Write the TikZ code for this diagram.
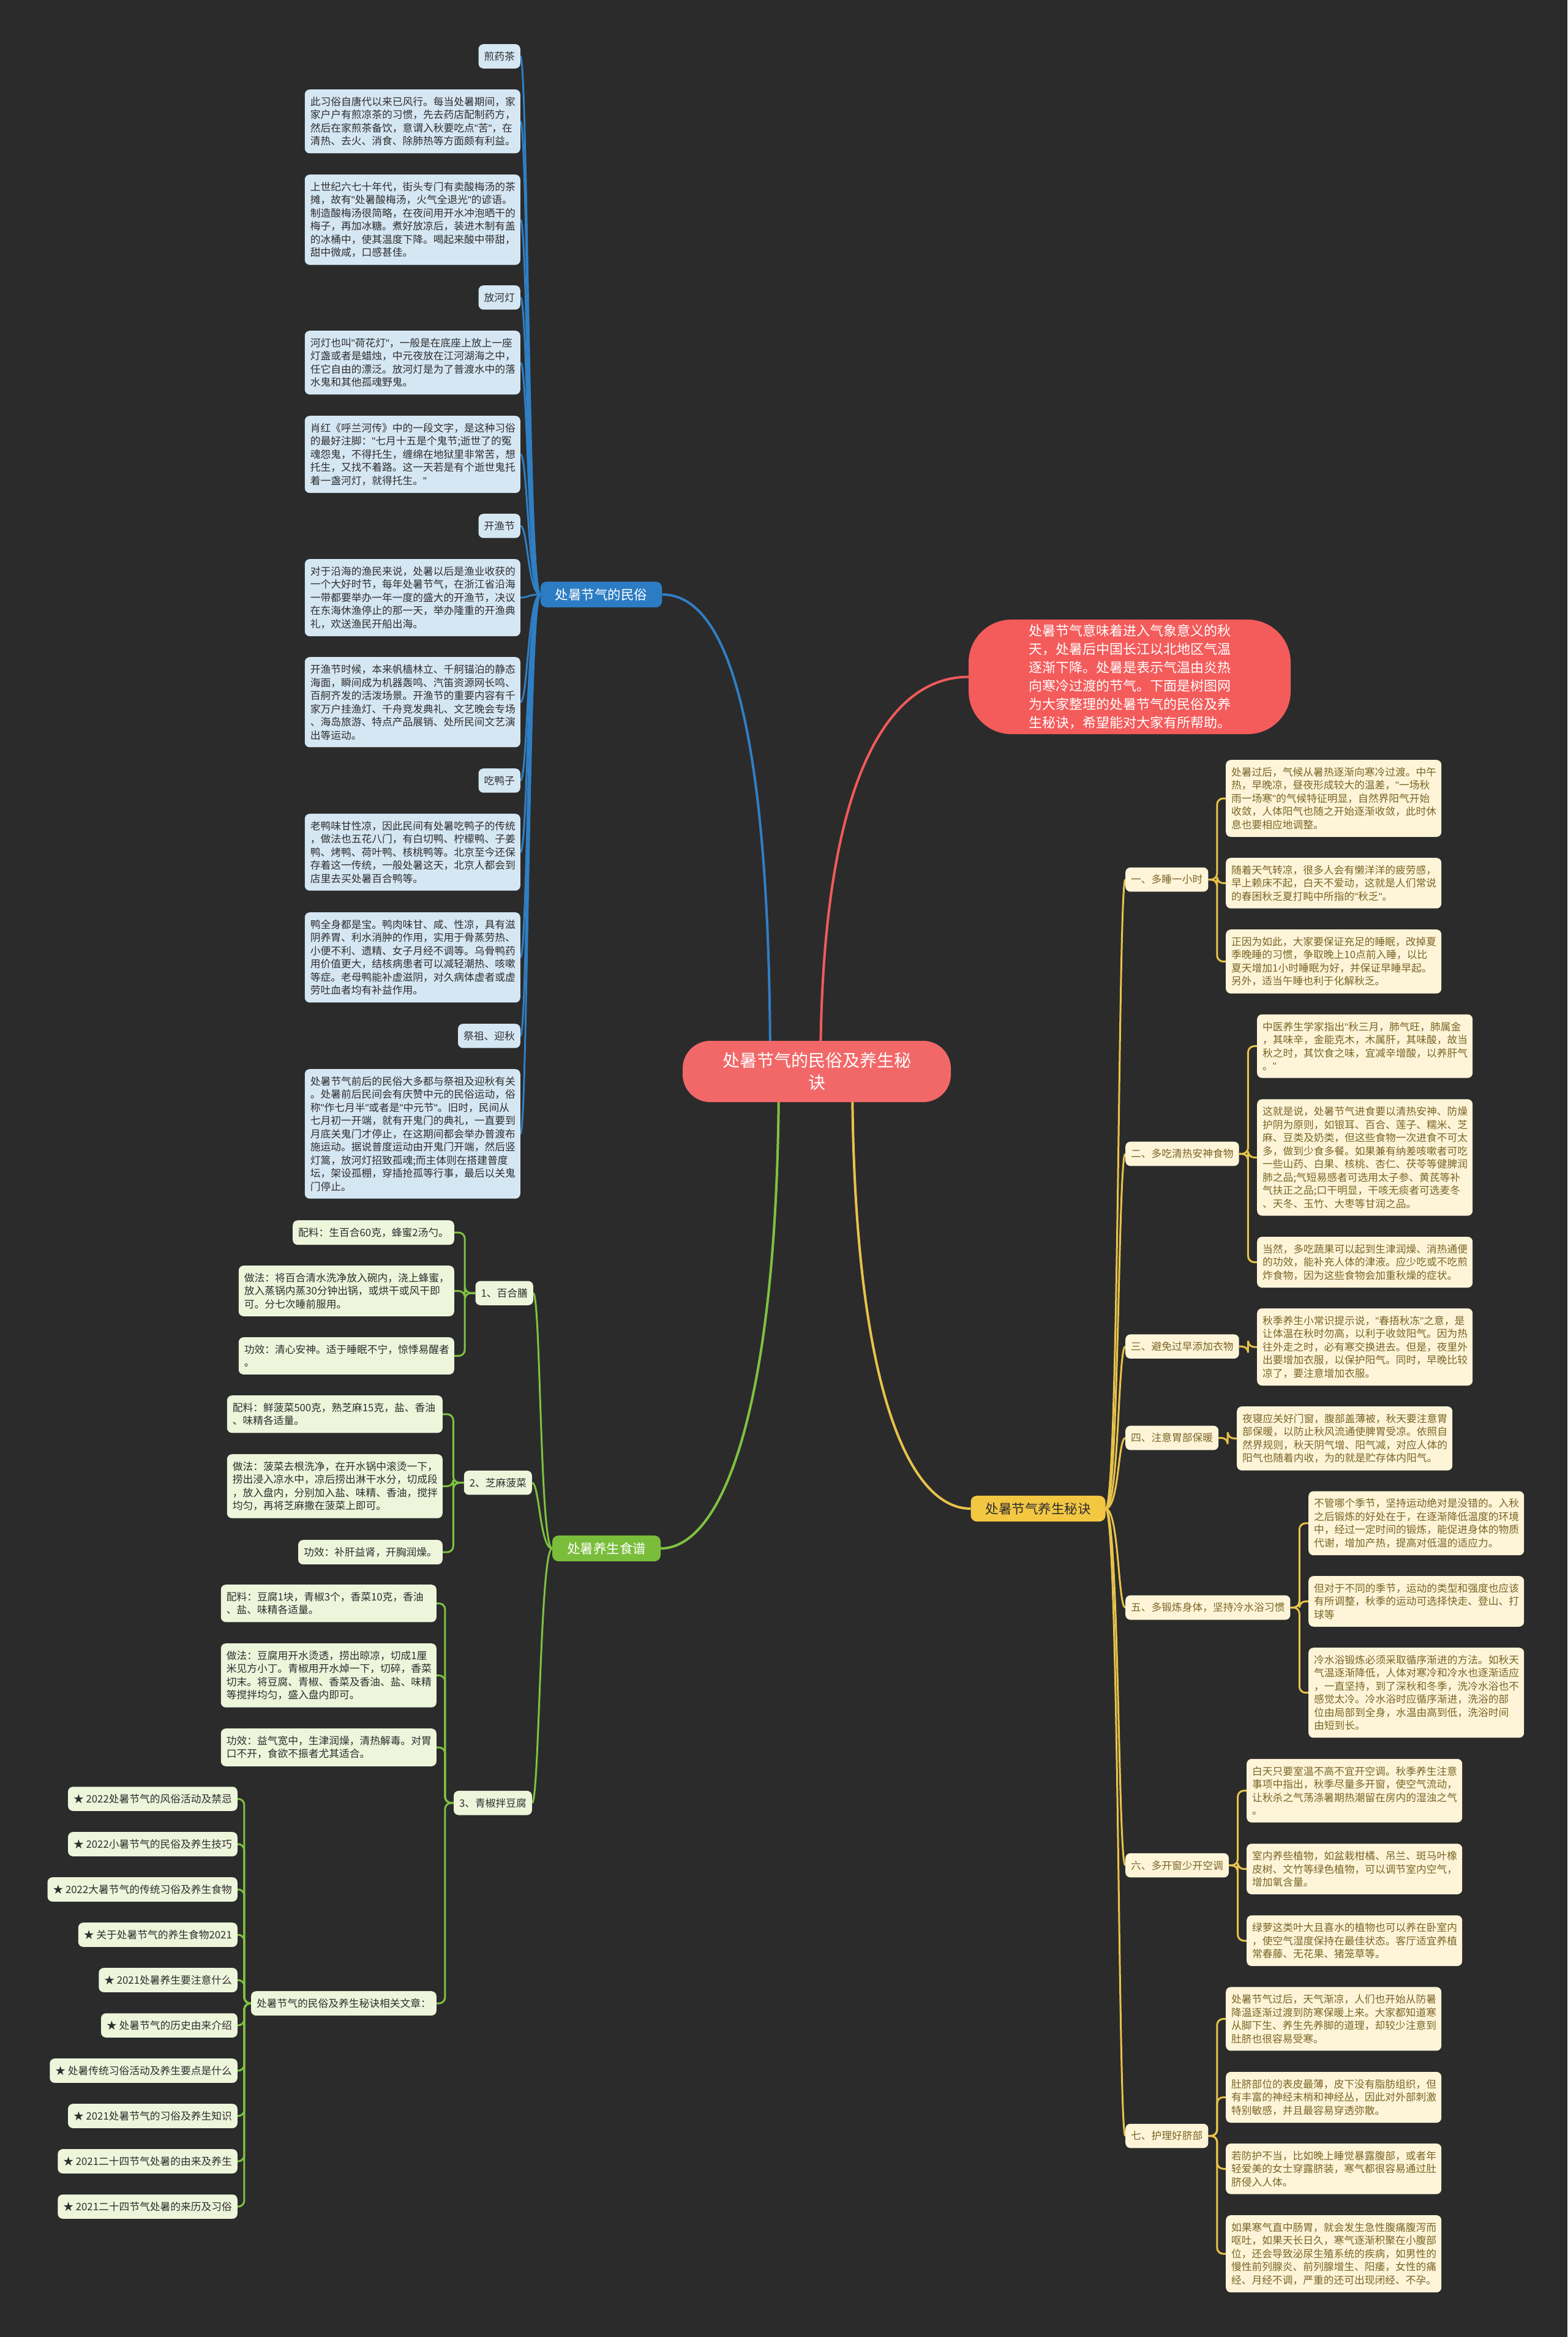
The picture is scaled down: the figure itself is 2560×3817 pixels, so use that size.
\documentclass[tikz,border=0pt]{standalone}
\usepackage{fontspec}
\setmainfont{Noto Sans CJK SC}
\newfontfamily\qfont{Liberation Sans}
\newcommand\q{{\qfont"}}
\usetikzlibrary{calc}
\pgfdeclarelayer{bg}
\pgfsetlayers{bg,main}
\definecolor{bgc}{HTML}{2B2B2B}
\definecolor{bluefill}{HTML}{D6E7F4}
\definecolor{blueline}{HTML}{2F7FC4}
\definecolor{bluebr}{HTML}{2C7CC4}
\definecolor{greenfill}{HTML}{EDF5DB}
\definecolor{greenline}{HTML}{7FC241}
\definecolor{greenbr}{HTML}{7ABD3B}
\definecolor{yellowfill}{HTML}{FEF5D9}
\definecolor{yellowline}{HTML}{E8C34A}
\definecolor{yellowbr}{HTML}{F4C743}
\definecolor{yellowtext}{HTML}{7A6525}
\definecolor{darktext}{HTML}{2E2E2E}
\definecolor{redline}{HTML}{F25A5A}
\definecolor{redfill}{HTML}{F45B5B}
\definecolor{rootfill}{HTML}{F26868}
\newcommand\fsA{\fontsize{16.75pt}{21.5pt}\selectfont}
\newcommand\fsB{\fontsize{21.5pt}{26pt}\selectfont}
\newcommand\fsC{\fontsize{28pt}{36pt}\selectfont}
\newcommand\fsD{\fontsize{22pt}{30pt}\selectfont}
\tikzset{
  box/.style={rounded corners=8pt, inner xsep=9pt, inner ysep=12pt, font=\fsA, align=left},
  wide/.style={text width=334pt},
  bl/.style={box, fill=bluefill, text=darktext},
  gr/.style={box, fill=greenfill, text=darktext},
  ye/.style={box, fill=yellowfill, text=yellowtext},
  branch/.style={rounded corners=10pt, inner xsep=24pt, inner ysep=11pt, font=\fsB},
  bline/.style={draw=blueline, line width=3pt},
  gline/.style={draw=greenline, line width=3pt},
  yline/.style={draw=yellowline, line width=3pt},
  gbr/.style={gline, rounded corners=10pt},
  ybr/.style={yline, rounded corners=10pt},
}
\begin{document}
\begin{tikzpicture}[x=1pt,y=-1pt]
\useasboundingbox (0,0) rectangle (2560,3817);
\begin{pgfonlayer}{bg}
\fill[bgc] (0,0) rectangle (2560,3817);
\end{pgfonlayer}

% central and branch nodes
\node[fill=rootfill, text=white, rounded corners=45pt, inner xsep=65pt, inner ysep=19pt, font=\fsC, align=center] (root) at (1334,1750) {处暑节气的民俗及养生秘\\诀};
\node[fill=redfill, text=white, rounded corners=70pt, inner xsep=96pt, inner ysep=8pt, font=\fsD, align=center, text width=334pt] (intro) at (1845,1105.5) {处暑节气意味着进入气象意义的秋\\天，处暑后中国长江以北地区气温\\逐渐下降。处暑是表示气温由炎热\\向寒冷过渡的节气。下面是树图网\\为大家整理的处暑节气的民俗及养\\生秘诀，希望能对大家有所帮助。};
\node[branch, fill=bluebr, text=white] (bb) at (982,971) {处暑节气的民俗};
\node[branch, fill=greenbr, text=white] (gb) at (990.5,2529) {处暑养生食谱};
\node[branch, fill=yellowbr, text=darktext] (yb) at (1695.5,2464) {处暑节气养生秘诀};

% blue branch children
\node[bl, anchor=north east] (b1) at (850,72) {煎药茶};
\node[bl, wide, anchor=north east] (b2) at (850,146) {此习俗自唐代以来已风行。每当处暑期间，家\\家户户有煎凉茶的习惯，先去药店配制药方，\\然后在家煎茶备饮，意谓入秋要吃点\q{}苦\q{}，在\\清热、去火、消食、除肺热等方面颇有利益。};
\node[bl, wide, anchor=north east] (b3) at (850,285) {上世纪六七十年代，街头专门有卖酸梅汤的茶\\摊，故有\q{}处暑酸梅汤，火气全退光\q{}的谚语。\\制造酸梅汤很简略，在夜间用开水冲泡晒干的\\梅子，再加冰糖。煮好放凉后，装进木制有盖\\的冰桶中，使其温度下降。喝起来酸中带甜，\\甜中微咸，口感甚佳。};
\node[bl, anchor=north east] (b4) at (850,466) {放河灯};
\node[bl, wide, anchor=north east] (b5) at (850,540) {河灯也叫\q{}荷花灯\q{}，一般是在底座上放上一座\\灯盏或者是蜡烛，中元夜放在江河湖海之中，\\任它自由的漂泛。放河灯是为了普渡水中的落\\水鬼和其他孤魂野鬼。};
\node[bl, wide, anchor=north east] (b6) at (850,679) {肖红《呼兰河传》中的一段文字，是这种习俗\\的最好注脚：\q{}七月十五是个鬼节;逝世了的冤\\魂怨鬼，不得托生，缠绵在地狱里非常苦，想\\托生，又找不着路。这一天若是有个逝世鬼托\\着一盏河灯，就得托生。\q{}};
\node[bl, anchor=north east] (b7) at (850,839) {开渔节};
\node[bl, wide, anchor=north east] (b8) at (850,913) {对于沿海的渔民来说，处暑以后是渔业收获的\\一个大好时节，每年处暑节气，在浙江省沿海\\一带都要举办一年一度的盛大的开渔节，决议\\在东海休渔停止的那一天，举办隆重的开渔典\\礼，欢送渔民开船出海。};
\node[bl, wide, anchor=north east] (b9) at (850,1073) {开渔节时候，本来帆樯林立、千舸锚泊的静态\\海面，瞬间成为机器轰鸣、汽笛资源网长鸣、\\百舸齐发的活泼场景。开渔节的重要内容有千\\家万户挂渔灯、千舟竞发典礼、文艺晚会专场\\、海岛旅游、特点产品展销、处所民间文艺演\\出等运动。};
\node[bl, anchor=north east] (b10) at (850,1255) {吃鸭子};
\node[bl, wide, anchor=north east] (b11) at (850,1329) {老鸭味甘性凉，因此民间有处暑吃鸭子的传统\\，做法也五花八门，有白切鸭、柠檬鸭、子姜\\鸭、烤鸭、荷叶鸭、核桃鸭等。北京至今还保\\存着这一传统，一般处暑这天，北京人都会到\\店里去买处暑百合鸭等。};
\node[bl, wide, anchor=north east] (b12) at (850,1490) {鸭全身都是宝。鸭肉味甘、咸、性凉，具有滋\\阴养胃、利水消肿的作用，实用于骨蒸劳热、\\小便不利、遗精、女子月经不调等。乌骨鸭药\\用价值更大，结核病患者可以减轻潮热、咳嗽\\等症。老母鸭能补虚滋阴，对久病体虚者或虚\\劳吐血者均有补益作用。};
\node[bl, anchor=north east] (b13) at (850,1672) {祭祖、迎秋};
\node[bl, wide, anchor=north east] (b14) at (850,1746) {处暑节气前后的民俗大多都与祭祖及迎秋有关\\。处暑前后民间会有庆赞中元的民俗运动，俗\\称\q{}作七月半\q{}或者是\q{}中元节\q{}。旧时，民间从\\七月初一开端，就有开鬼门的典礼，一直要到\\月底关鬼门才停止，在这期间都会举办普渡布\\施运动。据说普度运动由开鬼门开端，然后竖\\灯篙，放河灯招致孤魂;而主体则在搭建普度\\坛，架设孤棚，穿插抢孤等行事，最后以关鬼\\门停止。};

% green branch
\node[gr, anchor=east] (g1) at (871,2112) {1、百合膳};
\node[gr, anchor=east] (g2) at (869,2421.7) {2、芝麻菠菜};
\node[gr, anchor=east] (g3) at (869,2944.7) {3、青椒拌豆腐};
\node[gr, anchor=north east] (g1a) at (742,1993) {配料：生百合60克，蜂蜜2汤勺。};
\node[gr, wide, anchor=north east] (g1b) at (742,2067) {做法：将百合清水洗净放入碗内，浇上蜂蜜，\\放入蒸锅内蒸30分钟出锅，或烘干或风干即\\可。分七次睡前服用。};
\node[gr, wide, anchor=north east] (g1c) at (742,2184) {功效：清心安神。适于睡眠不宁，惊悸易醒者\\。};
\node[gr, wide, anchor=north east] (g2a) at (723,2279) {配料：鲜菠菜500克，熟芝麻15克，盐、香油\\、味精各适量。};
\node[gr, wide, anchor=north east] (g2b) at (723,2375) {做法：菠菜去根洗净，在开水锅中滚烫一下，\\捞出浸入凉水中，凉后捞出淋干水分，切成段\\，放入盘内，分别加入盐、味精、香油，搅拌\\均匀，再将芝麻撒在菠菜上即可。};
\node[gr, anchor=north east] (g2c) at (723,2515) {功效：补肝益肾，开胸润燥。};
\node[gr, wide, anchor=north east] (g3a) at (713,2588) {配料：豆腐1块，青椒3个，香菜10克，香油\\、盐、味精各适量。};
\node[gr, wide, anchor=north east] (g3b) at (713,2684) {做法：豆腐用开水烫透，捞出晾凉，切成1厘\\米见方小丁。青椒用开水焯一下，切碎，香菜\\切末。将豆腐、青椒、香菜及香油、盐、味精\\等搅拌均匀，盛入盘内即可。};
\node[gr, wide, anchor=north east] (g3c) at (713,2823) {功效：益气宽中，生津润燥，清热解毒。对胃\\口不开，食欲不振者尤其适合。};
\node[gr, anchor=north east] (g3d) at (713,3252) {处暑节气的民俗及养生秘诀相关文章：};
\node[gr, anchor=east] (s1) at (388,2938) {★ 2022处暑节气的风俗活动及禁忌};
\node[gr, anchor=east] (s2) at (388,3012) {★ 2022小暑节气的民俗及养生技巧};
\node[gr, anchor=east] (s3) at (388,3086) {★ 2022大暑节气的传统习俗及养生食物};
\node[gr, anchor=east] (s4) at (388,3160) {★ 关于处暑节气的养生食物2021};
\node[gr, anchor=east] (s5) at (388,3234) {★ 2021处暑养生要注意什么};
\node[gr, anchor=east] (s6) at (388,3308) {★ 处暑节气的历史由来介绍};
\node[gr, anchor=east] (s7) at (388,3382) {★ 处暑传统习俗活动及养生要点是什么};
\node[gr, anchor=east] (s8) at (388,3456) {★ 2021处暑节气的习俗及养生知识};
\node[gr, anchor=east] (s9) at (388,3530) {★ 2021二十四节气处暑的由来及养生};
\node[gr, anchor=east] (s10) at (388,3604) {★ 2021二十四节气处暑的来历及习俗};

% yellow branch
\node[ye, anchor=west] (y1) at (1838,1436.6) {一、多睡一小时};
\node[ye, anchor=west] (y2) at (1838,1884.5) {二、多吃清热安神食物};
\node[ye, anchor=west] (y3) at (1838,2199.2) {三、避免过早添加衣物};
\node[ye, anchor=west] (y4) at (1838,2348.5) {四、注意胃部保暖};
\node[ye, anchor=west] (y5) at (1838,2625.6) {五、多锻炼身体，坚持冷水浴习惯};
\node[ye, anchor=west] (y6) at (1838,3046.6) {六、多开窗少开空调};
\node[ye, anchor=west] (y7) at (1838,3488.5) {七、护理好脐部};

\node[ye, wide, anchor=north west] (a1) at (2002,1241) {处暑过后，气候从暑热逐渐向寒冷过渡。中午\\热，早晚凉，昼夜形成较大的温差，\q{}一场秋\\雨一场寒\q{}的气候特征明显，自然界阳气开始\\收敛，人体阳气也随之开始逐渐收敛，此时休\\息也要相应地调整。};
\node[ye, wide, anchor=north west] (a2) at (2002,1401) {随着天气转凉，很多人会有懒洋洋的疲劳感，\\早上赖床不起，白天不爱动，这就是人们常说\\的春困秋乏夏打盹中所指的\q{}秋乏\q{}。};
\node[ye, wide, anchor=north west] (a3) at (2002,1518) {正因为如此，大家要保证充足的睡眠，改掉夏\\季晚睡的习惯，争取晚上10点前入睡，以比\\夏天增加1小时睡眠为好，并保证早睡早起。\\另外，适当午睡也利于化解秋乏。};
\node[ye, wide, anchor=north west] (c1) at (2053,1656.6) {中医养生学家指出\q{}秋三月，肺气旺，肺属金\\，其味辛，金能克木，木属肝，其味酸，故当\\秋之时，其饮食之味，宜减辛增酸，以养肝气\\。\q{}};
\node[ye, wide, anchor=north west] (c2) at (2053,1795.2) {这就是说，处暑节气进食要以清热安神、防燥\\护阴为原则，如银耳、百合、莲子、糯米、芝\\麻、豆类及奶类，但这些食物一次进食不可太\\多，做到少食多餐。如果兼有纳差咳嗽者可吃\\一些山药、白果、核桃、杏仁、茯苓等健脾润\\肺之品;气短易感者可选用太子参、黄芪等补\\气扶正之品;口干明显，干咳无痰者可选麦冬\\、天冬、玉竹、大枣等甘润之品。};
\node[ye, wide, anchor=north west] (c3) at (2053,2019.8) {当然，多吃蔬果可以起到生津润燥、消热通便\\的功效，能补充人体的津液。应少吃或不吃煎\\炸食物，因为这些食物会加重秋燥的症状。};
\node[ye, wide, anchor=north west] (d1) at (2053,2136.8) {秋季养生小常识提示说，\q{}春捂秋冻\q{}之意，是\\让体温在秋时勿高，以利于收敛阳气。因为热\\往外走之时，必有寒交换进去。但是，夜里外\\出要增加衣服，以保护阳气。同时，早晚比较\\凉了，要注意增加衣服。};
\node[ye, wide, anchor=north west] (e1) at (2020,2296.9) {夜寝应关好门窗，腹部盖薄被，秋天要注意胃\\部保暖，以防止秋风流通使脾胃受凉。依照自\\然界规则，秋天阴气增、阳气减，对应人体的\\阳气也随着内收，为的就是贮存体内阳气。};
\node[ye, wide, anchor=north west] (f1) at (2137,2435.4) {不管哪个季节，坚持运动绝对是没错的。入秋\\之后锻炼的好处在于，在逐渐降低温度的环境\\中，经过一定时间的锻炼，能促进身体的物质\\代谢，增加产热，提高对低温的适应力。};
\node[ye, wide, anchor=north west] (f2) at (2137,2574) {但对于不同的季节，运动的类型和强度也应该\\有所调整，秋季的运动可选择快走、登山、打\\球等};
\node[ye, wide, anchor=north west] (f3) at (2137,2691) {冷水浴锻炼必须采取循序渐进的方法。如秋天\\气温逐渐降低，人体对寒冷和冷水也逐渐适应\\，一直坚持，到了深秋和冬季，洗冷水浴也不\\感觉太冷。冷水浴时应循序渐进，洗浴的部\\位由局部到全身，水温由高到低，洗浴时间\\由短到长。};
\node[ye, wide, anchor=north west] (h1) at (2036,2872.6) {白天只要室温不高不宜开空调。秋季养生注意\\事项中指出，秋季尽量多开窗，使空气流动，\\让秋杀之气荡涤暑期热潮留在房内的湿浊之气\\。};
\node[ye, wide, anchor=north west] (h2) at (2036,3011.1) {室内养些植物，如盆栽柑橘、吊兰、斑马叶橡\\皮树、文竹等绿色植物，可以调节室内空气，\\增加氧含量。};
\node[ye, wide, anchor=north west] (h3) at (2036,3128.2) {绿萝这类叶大且喜水的植物也可以养在卧室内\\，使空气湿度保持在最佳状态。客厅适宜养植\\常春藤、无花果、猪笼草等。};
\node[ye, wide, anchor=north west] (k1) at (2002,3245.2) {处暑节气过后，天气渐凉，人们也开始从防暑\\降温逐渐过渡到防寒保暖上来。大家都知道寒\\从脚下生、养生先养脚的道理，却较少注意到\\肚脐也很容易受寒。};
\node[ye, wide, anchor=north west] (k2) at (2002,3383.8) {肚脐部位的表皮最薄，皮下没有脂肪组织，但\\有丰富的神经末梢和神经丛，因此对外部刺激\\特别敏感，并且最容易穿透弥散。};
\node[ye, wide, anchor=north west] (k3) at (2002,3500.8) {若防护不当，比如晚上睡觉暴露腹部，或者年\\轻爱美的女士穿露脐装，寒气都很容易通过肚\\脐侵入人体。};
\node[ye, wide, anchor=north west] (k4) at (2002,3617.9) {如果寒气直中肠胃，就会发生急性腹痛腹泻而\\呕吐，如果天长日久，寒气逐渐积聚在小腹部\\位，还会导致泌尿生殖系统的疾病，如男性的\\慢性前列腺炎、前列腺增生、阳痿，女性的痛\\经、月经不调，严重的还可出现闭经、不孕。};

\begin{pgfonlayer}{bg}
% main branches from root
\draw[draw=redline, line width=4pt] (1340,1750) .. controls (1340,1250) and (1460,1105.5) .. (intro.west);
\draw[draw=blueline, line width=4pt] (1258,1750) .. controls (1258,1150) and (1180,971) .. (bb.east);
\draw[draw=greenline, line width=4pt] (1272,1750) .. controls (1272,2300) and (1180,2529) .. (gb.east);
\draw[draw=yellowline, line width=4pt] (1392,1750) .. controls (1392,2250) and (1480,2464) .. (yb.west);
% blue children
\foreach \n in {b1,b2,b3,b4,b5,b6,b7,b8,b9,b10,b11,b12,b13,b14}
  \draw[bline] (bb.west) .. controls ($(bb.west)+(-20,0)$) and ($(\n.east)+(12,0)$) .. (\n.east);
% green children
\foreach \n in {g1,g2,g3}
  \draw[gline] (gb.west) .. controls ($(gb.west)+(-20,0)$) and ($(\n.east)+(12,0)$) .. (\n.east);
\foreach \n in {g1a,g1b,g1c}
  \draw[gbr] (g1.west) -- ($(g1.west)!0.5!(g1.west -| \n.east)$) |- (\n.east);
\foreach \n in {g2a,g2b,g2c}
  \draw[gbr] (g2.west) -- ($(g2.west)!0.5!(g2.west -| \n.east)$) |- (\n.east);
\foreach \n in {g3a,g3b,g3c,g3d}
  \draw[gbr] (g3.west) -- ($(g3.west)!0.5!(g3.west -| \n.east)$) |- (\n.east);
\foreach \n in {s1,s2,s3,s4,s5,s6,s7,s8,s9,s10}
  \draw[gbr] (g3d.west) -- ($(g3d.west)!0.5!(g3d.west -| \n.east)$) |- (\n.east);
% yellow children
\foreach \n in {y1,y2,y3,y4,y5,y6,y7}
  \draw[yline] (yb.east) .. controls ($(yb.east)+(22,0)$) and ($(\n.west)+(-12,0)$) .. (\n.west);
\foreach \p/\n in {y1/a1,y1/a2,y1/a3,y2/c1,y2/c2,y2/c3,y3/d1,y4/e1,y5/f1,y5/f2,y5/f3,y6/h1,y6/h2,y6/h3,y7/k1,y7/k2,y7/k3,y7/k4}
  \draw[ybr] (\p.east) -- ($(\p.east)!0.5!(\p.east -| \n.west)$) |- (\n.west);
\end{pgfonlayer}
\end{tikzpicture}
\end{document}
